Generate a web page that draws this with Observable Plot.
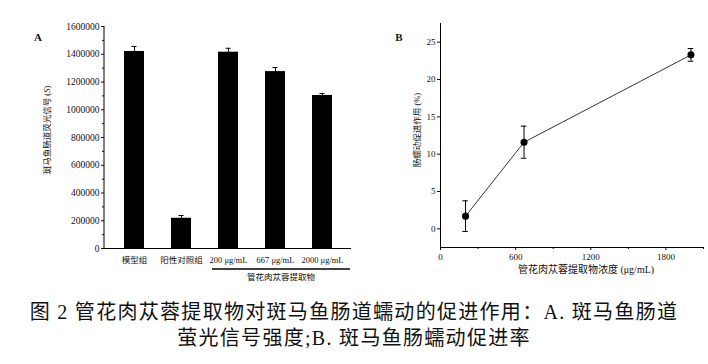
<!DOCTYPE html>
<html>
<head>
<meta charset="utf-8">
<script src="https://cdn.jsdelivr.net/npm/d3@7"></script>
<script src="https://cdn.jsdelivr.net/npm/@observablehq/plot@0.6"></script>
<style>
  body { margin: 0; background: #fff; }
  #wrap { width: 708px; }
  #panels { display: flex; }
  #caption { width: 708px; text-align: center; font-family: "Liberation Serif", "Noto Sans CJK SC", serif; font-size: 20px; letter-spacing: 1.3px; line-height: 26px; margin-top: 9px; color: #111; }
</style>
</head>
<body>
<div id="wrap">
  <div id="panels"></div>
  <div id="caption">图 2 管花肉苁蓉提取物对斑马鱼肠道蠕动的促进作用：A. 斑马鱼肠道<br>萤光信号强度;B. 斑马鱼肠蠕动促进率</div>
</div>
<script>
// Panel A data
const groups = ["模型组", "阳性对照组", "200 μg/mL", "667 μg/mL", "2000 μg/mL"];
const signal = [1420000, 218000, 1415000, 1275000, 1103000];
const signalErr = [36000, 20000, 28000, 29000, 14000];
const yTicksA = [0, 200000, 400000, 600000, 800000, 1000000, 1200000, 1400000, 1600000];
const yMinorA = [100000, 300000, 500000, 700000, 900000, 1100000, 1300000, 1500000];
const extractLabel = "管花肉苁蓉提取物";

// Panel B data
const conc = [200, 667, 2000];
const rate = [1.7, 11.6, 23.3];
const rateErr = [2.05, 2.15, 0.85];
const xTicksB = [0, 600, 1200, 1800];
const xMinorB = [300, 900, 1500, 2100];
const yTicksB = [0, 5, 10, 15, 20, 25];

const font = '"Liberation Serif", "Noto Sans CJK SC", serif';

const dataA = groups.map((g, i) => ({g, v: signal[i], e: signalErr[i]}));
const dataB = conc.map((c, i) => ({c, v: rate[i], e: rateErr[i]}));

// Panel A
const WA = 360, HA = 290, mlA = 104, mtA = 26, mbA = 42, mrA = 9;
const chartA = Plot.plot({
  width: WA, height: HA,
  marginLeft: mlA, marginTop: mtA, marginBottom: mbA, marginRight: mrA,
  style: {fontFamily: font, fontSize: "9.5px", color: "#111", background: "#fff"},
  x: {domain: groups, paddingInner: 0.58, paddingOuter: 0.37, label: null},
  y: {domain: [0, 1600000], label: null},
  marks: [
    Plot.barY(dataA, {x: "g", y: "v", fill: "#000"}),
    Plot.ruleX(dataA, {x: "g", y1: "v", y2: d => d.v + d.e, stroke: "#000", strokeWidth: 1}),
    Plot.tickY(dataA, {x: "g", y: d => d.v + d.e, stroke: "#000", strokeWidth: 1, insetLeft: 7.5, insetRight: 7.5}),
    Plot.ruleY([0], {stroke: "#000", strokeWidth: 1}),
    Plot.axisY({ticks: yTicksA, tickSize: 3, tickPadding: 2, tickFormat: d => String(d), label: null}),
    Plot.axisY({ticks: yMinorA, tickSize: 2, tickFormat: () => "", label: null}),
    Plot.axisX({tickSize: 0, tickPadding: 8, fontSize: "8.5px", label: null}),
    (index, scales, values, dim) => {
      const g = d3.create("svg:g");
      g.append("line").attr("x1", dim.marginLeft).attr("x2", dim.marginLeft)
        .attr("y1", dim.marginTop).attr("y2", dim.height - dim.marginBottom)
        .attr("stroke", "#000");
      g.append("text").attr("x", 38).attr("y", 41).attr("text-anchor", "middle")
        .attr("font-weight", "bold").attr("font-size", "11px").text("A");
      const t = g.append("text").attr("transform", `translate(${dim.marginLeft - 57},130) rotate(-90)`)
        .attr("text-anchor", "middle").attr("font-size", "8.5px").attr("dy", "0.35em");
      t.append("tspan").text("斑马鱼肠道荧光信号 (");
      t.append("tspan").attr("font-style", "italic").text("S");
      t.append("tspan").text(")");
      const bw = scales.x.bandwidth ? scales.x.bandwidth() : 0;
      const c1 = scales.x(groups[2]) + bw / 2, c2 = scales.x(groups[4]) + bw / 2;
      const xl = c1 - 16, xr = c2 + 28;
      const yb = dim.height - dim.marginBottom + 21;
      g.append("line").attr("x1", xl).attr("x2", xr).attr("y1", yb).attr("y2", yb)
        .attr("stroke", "#000").attr("stroke-width", 1.6);
      g.append("text").attr("x", (xl + xr) / 2).attr("y", yb + 8).attr("dy", "0.35em")
        .attr("text-anchor", "middle").attr("font-size", "8.5px").text(extractLabel);
      return g.node();
    }
  ]
});

// Panel B
const WB = 348, HB = 290;
const chartB = Plot.plot({
  width: WB, height: HB,
  marginLeft: 80, marginTop: 23, marginBottom: 43, marginRight: 5,
  style: {fontFamily: font, fontSize: "9px", color: "#111", background: "#fff"},
  x: {domain: [0, 2100], label: null},
  y: {domain: [-2.5, 27.5], label: null},
  marks: [
    Plot.ruleX([0], {stroke: "#000", strokeWidth: 1}),
    Plot.ruleY([-2.5], {stroke: "#000", strokeWidth: 1}),
    Plot.axisX({ticks: xTicksB, tickSize: 3, tickPadding: 3, tickFormat: d => String(d), label: null}),
    Plot.axisX({ticks: xMinorB, tickSize: 2, tickFormat: () => "", label: null}),
    Plot.axisY({ticks: yTicksB, tickSize: 3, tickPadding: 2, tickFormat: d => String(d), label: null}),
    Plot.line(dataB, {x: "c", y: "v", stroke: "#000", strokeWidth: 0.8}),
    Plot.ruleX(dataB, {x: "c", y1: d => d.v - d.e, y2: d => d.v + d.e, stroke: "#000", strokeWidth: 1}),
    Plot.ruleY(dataB, {y: d => d.v + d.e, x1: d => d.c - 22, x2: d => d.c + 22, stroke: "#000", strokeWidth: 1}),
    Plot.ruleY(dataB, {y: d => d.v - d.e, x1: d => d.c - 22, x2: d => d.c + 22, stroke: "#000", strokeWidth: 1}),
    Plot.dot(dataB, {x: "c", y: "v", r: 2.8, fill: "#000", stroke: "#000"}),
    (index, scales, values, dim) => {
      const g = d3.create("svg:g");
      g.append("text").attr("x", 39).attr("y", 41).attr("text-anchor", "middle")
        .attr("font-weight", "bold").attr("font-size", "11px").text("B");
      g.append("text").attr("transform", `translate(${dim.marginLeft - 23},130) rotate(-90)`)
        .attr("text-anchor", "middle").attr("font-size", "8.5px").attr("dy", "0.35em")
        .text("肠蠕动促进作用 (%)");
      g.append("text").attr("x", 226).attr("y", dim.height - dim.marginBottom + 22)
        .attr("text-anchor", "middle").attr("font-size", "10px").attr("dy", "0.35em")
        .text("管花肉苁蓉提取物浓度 (μg/mL)");
      return g.node();
    }
  ]
});

document.getElementById("panels").append(chartA, chartB);
</script>
</body>
</html>
